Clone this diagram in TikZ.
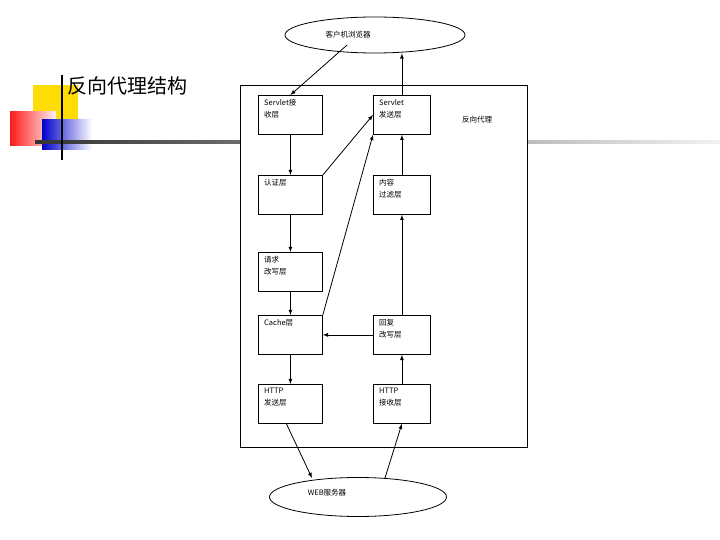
\documentclass[tikz,border=0pt]{standalone}
\usepackage{fontspec}
\setmainfont{Liberation Serif}
\newfontfamily\cjk{Noto Sans CJK SC}
\usetikzlibrary{shapes.geometric}
\tikzset{
  layer/.style={draw,thick,minimum width=64pt,minimum height=39pt,inner sep=0pt},
  layertext/.style={anchor=north west,align=left,font=\cjk\fontsize{7.5}{12}\selectfont,inner sep=0pt},
  flow/.style={thick,-latex},
}
\begin{document}
\begin{tikzpicture}[x=1pt,y=-1pt]
\useasboundingbox (0,0) rectangle (720,540);
% decoration
\fill[yellow!80!orange] (33,85) rectangle (78,120);
\shade[left color=red!90,right color=red!5] (10,112) rectangle (56,146);
\shade[left color=blue!80!black,right color=white] (42,120) rectangle (92,150);
\shade[left color=black!80,right color=black!5] (35,141) rectangle (720,144);
\draw[very thick] (62,75) -- (62,160);
\node[anchor=west,font=\cjk\fontsize{20}{22}\selectfont,inner sep=1pt] (title) at (66,86) {反向代理结构};
% frame
\draw[thick,fill=white] (240,85) rectangle (527,447);
\node[font=\cjk\fontsize{7.5}{10}\selectfont] (proxy) at (477,120) {反向代理};
\node[draw,ellipse,thick,minimum width=180pt,minimum height=36pt,fill=white] (browser) at (375,35) {};
\node[font=\cjk\fontsize{7.5}{10}\selectfont] at (348,35) {客户机浏览器};
\node[draw,ellipse,thick,minimum width=177pt,minimum height=39pt] (web) at (358,497) {};
\node[font=\cjk\fontsize{7.5}{10}\selectfont] at (327,493) {WEB服务器};
% layers, left column
\foreach \n/\y/\t in {srecv/95/{Servlet接\\收层},auth/175/{认证层},req/252/{请求\\改写层},cache/315/{Cache层},hsend/384/{HTTP\\发送层}}{
  \node[layer,anchor=north west] (\n) at (258,\y) {};
  \node[layertext] at (264,\y+4) {\t};
}
% layers, right column
\foreach \n/\y/\t in {ssend/95/{Servlet\\发送层},filter/175/{内容\\过滤层},resp/315/{回复\\改写层},hrecv/384/{HTTP\\接收层}}{
  \node[layer,anchor=north west,minimum width=57pt] (\n) at (373,\y) {};
  \node[layertext] at (379,\y+4) {\t};
}
% connectors
\draw[flow] (browser.south west) ++(36,-3) -- (srecv.north);
\draw[flow] (ssend.north) -- (ssend.north |- browser.south);
\draw[flow] (srecv) -- (auth);
\draw[flow] (auth) -- (req);
\draw[flow] (req) -- (cache);
\draw[flow] (cache) -- (hsend);
\draw[flow] (auth.north east) -- (ssend.west);
\draw[flow] (cache.north east) -- (ssend.south west);
\draw[flow] (filter) -- (ssend);
\draw[flow] (resp) -- (filter);
\draw[flow] (hrecv) -- (resp);
\draw[flow] (resp) -- (cache);
\draw[flow] (hsend.south) ++(-4,0) -- (312,478);
\coordinate (webtop) at (385,478);
\draw[flow] (webtop) -- (hrecv.south);
\end{tikzpicture}
\end{document}
